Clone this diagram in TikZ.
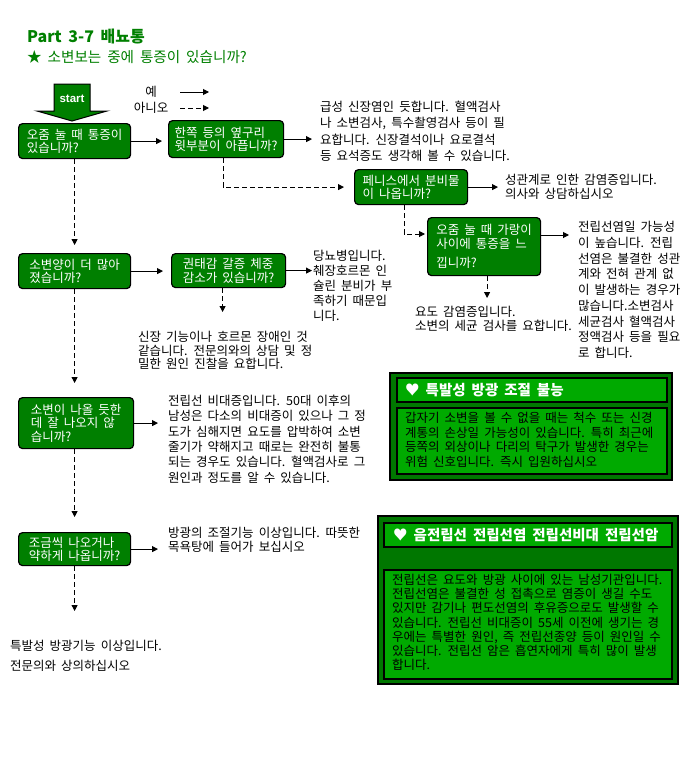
\documentclass[tikz,border=0pt]{standalone}
\usepackage{fontspec}
\setmainfont{Noto Sans CJK KR}[WordSpace=1.8]
\newfontfamily\lsans{Liberation Sans}
\usetikzlibrary{arrows.meta,calc}
\definecolor{dg}{HTML}{007F00}
\definecolor{pg}{HTML}{007700}
\definecolor{lg}{HTML}{00AA00}
\definecolor{tg}{HTML}{008000}
\newcommand{\bodyfont}[1]{\fontsize{12.5}{#1}\selectfont}
\begin{document}
\begin{tikzpicture}[x=1pt,y=-1pt,
  qbox/.style={draw=black, line width=1.2pt, fill=dg, rounded corners=4pt, text=white,
    align=left, anchor=north west, inner sep=0pt, font=\bodyfont{13.5}},
  txt/.style={anchor=north west, inner sep=0pt, align=left, text=black},
  arr/.style={line width=1pt, -{Triangle[length=6pt,width=6pt]}},
  darr/.style={arr, dash pattern=on 5pt off 3pt},
  panel/.style={draw=black, line width=1.2pt, fill=pg},
  pbox/.style={draw=black, line width=1.2pt, fill=lg},
  ptitle/.style={anchor=west, inner sep=0pt, text=white, font=\fontsize{14.5}{17}\selectfont\bfseries},
]
\fill[white] (0,0) rectangle (690,758);
\useasboundingbox (0,0) rectangle (690,758);

% titles
\node[anchor=west, inner sep=0pt, text=tg, font=\fontsize{16}{18}\selectfont\bfseries] (title) at (27,37) {Part 3-7 배뇨통};
\node[anchor=west, inner sep=0pt, text=tg, font=\fontsize{14.6}{17}\selectfont] (subtitle) at (27,57) {★ 소변보는 중에 통증이 있습니까?};

% start arrow
\draw[fill=dg, draw=black, line width=1pt] (54,84) -- (90,84) -- (90,111) -- (107,111) -- (72,121) -- (37,111) -- (54,111) -- cycle;
\node[inner sep=0pt, text=white, font=\lsans\fontsize{11.5}{13}\selectfont\bfseries] (start) at (72,99) {start};

% legend
\node[inner sep=0pt, font=\bodyfont{14}] (yes) at (151,92) {예};
\node[inner sep=0pt, font=\bodyfont{14}] (no) at (151,108) {아니오};
\coordinate (l1a) at (180,92); \coordinate (l1b) at (209,92);
\coordinate (l2a) at (180,108); \coordinate (l2b) at (209,108);
\draw[arr] (l1a) -- (l1b);
\draw[darr] (l2a) -- (l2b);

% question boxes
\node[qbox, minimum width=112pt, minimum height=35pt] (b1) at (18,123) {오줌 눌 때 통증이\\있습니까?};
\node[qbox, minimum width=115pt, minimum height=37pt] (b2) at (168,120) {한쪽 등의 옆구리\\윗부분이 아픕니까?};
\node[qbox, minimum width=113pt, minimum height=35pt] (b3) at (354,169) {페니스에서 분비물\\이 나옵니까?};
\node[qbox, minimum width=113pt, minimum height=58pt] (b4) at (427,217) {오줌 눌 때 가랑이\\사이에 통증을 느\\[6pt]낍니까?};
\node[qbox, minimum width=112pt, minimum height=35pt] (b5) at (18,253) {소변양이 더 많아\\졌습니까?};
\node[qbox, minimum width=114pt, minimum height=34pt] (b6) at (171,253) {권태감 갈증 체중\\감소가 있습니까?};
\node[qbox, minimum width=115pt, minimum height=51pt] (b7) at (18,397) {소변이 나올 듯한\\데 잘 나오지 않\\습니까?};
\node[qbox, minimum width=112pt, minimum height=33pt] (b8) at (18,532) {조금씩 나오거나\\약하게 나옵니까?};

% answer texts
\node[txt, font=\bodyfont{16.3}] (t1) at (320,101) {급성 신장염인 듯합니다. 혈액검사\\나 소변검사, 특수촬영검사 등이 필\\요합니다. 신장결석이나 요로결석\\등 요석증도 생각해 볼 수 있습니다.};
\node[txt, font=\bodyfont{13.5}] (t3) at (505,174) {성관계로 인한 감염증입니다.\\의사와 상담하십시오};
\node[txt, font=\bodyfont{15.75}] (t4) at (578,221) {전립선염일 가능성\\이 높습니다. 전립\\선염은 불결한 성관\\계와 전혀 관계 없\\이 발생하는 경우가\\많습니다.소변검사\\세균검사 혈액검사\\정액검사 등을 필요\\로 합니다.};
\node[txt, font=\bodyfont{13.5}] (t4b) at (415,306) {요도 감염증입니다.\\소변의 세균 검사를 요합니다.};
\node[txt, font=\bodyfont{15}] (t6) at (313,250) {당뇨병입니다.\\췌장호르몬 인\\슐린 분비가 부\\족하기 때문입\\니다.};
\node[txt, font=\bodyfont{13.5}] (t6b) at (138,331) {신장 기능이나 호르몬 장애인 것\\같습니다. 전문의와의 상담 및 정\\밀한 원인 진찰을 요합니다.};
\node[txt, font=\bodyfont{15.3}] (t7) at (168,395) {전립선 비대증입니다. 50대 이후의\\남성은 다소의 비대증이 있으나 그 정\\도가 심해지면 요도를 압박하여 소변\\줄기가 약해지고 때로는 완전히 불통\\되는 경우도 있습니다. 혈액검사로 그\\원인과 정도를 알 수 있습니다.};
\node[txt, font=\bodyfont{14}] (t8) at (168,527) {방광의 조절기능 이상입니다. 따뜻한\\목욕탕에 들어가 보십시오};
\node[txt, font=\bodyfont{20}] (t9) at (10,640) {특발성 방광기능 이상입니다.\\전문의와 상의하십시오};

% connectors
\draw[arr, shorten >=6pt] (b1.east) -- (b1.east -| b2.west);
\draw[arr, shorten >=8pt] (b2.east) -- (b2.east -| t1.west);
\draw[darr, shorten >=10pt] ([xshift=-3pt]b2.south) |- (b3.west);
\draw[arr, shorten >=7pt] (b3.east) -- (b3.east -| t3.west);
\coordinate (c34) at ($(b4.north west)+(0,17)$);
\draw[darr, shorten >=2pt] ([xshift=-7pt]b3.south) |- (c34);
\coordinate (c4) at ($(b4.north east)+(0,18)$);
\draw[arr, shorten >=9pt] (c4) -- (c4 -| t4.west);
\draw[darr, shorten >=8pt] ([xshift=3pt]b4.south) -- ([xshift=3pt]b4.south |- t4b.north);
\draw[darr, shorten >=8pt] (b1.south) -- (b1.south |- b5.north);
\draw[arr, shorten >=8pt] (b5.east) -- (b5.east -| b6.west);
\draw[arr, shorten >=1pt] (b6.east) -- (b6.east -| t6.west);
\draw[darr, shorten >=19pt] ([xshift=-6pt]b6.south) -- ([xshift=-6pt]b6.south |- t6b.north);
\draw[darr, shorten >=14pt] (b5.south) -- (b5.south |- b7.north);
\draw[arr, shorten >=10pt] (b7.east) -- (b7.east -| t7.west);
\draw[darr, shorten >=15pt] (b1.south |- b7.south) -- (b1.south |- b8.north);
\draw[arr, shorten >=10pt] (b8.east) -- (b8.east -| t8.west);
\draw[darr, shorten >=29pt] (b8.south) -- (b8.south |- t9.north);

% panel 1
\draw[panel] (390,373) rectangle (672,480);
\draw[pbox] (397,378) rectangle (667,402);
\draw[pbox] (397,408) rectangle (667,474);
\node[ptitle] (p1title) at (405,390) {♥ 특발성 방광 조절 불능};
\node[txt, font=\bodyfont{14.7}] (p1body) at (405,412) {갑자기 소변을 볼 수 없을 때는 척수 또는 신경\\계통의 손상일 가능성이 있습니다. 특히 최근에\\등쪽의 외상이나 다리의 탁구가 발생한 경우는\\위험 신호입니다. 즉시 입원하십시오};

% panel 2
\draw[panel] (378,516) rectangle (678,684);
\draw[pbox] (384,523) rectangle (672,547);
\draw[pbox] (384,570) rectangle (672,679);
\node[ptitle] (p2title) at (393,535) {♥ 음전립선 전립선염 전립선비대 전립선암};
\node[txt, font=\bodyfont{14.2}] (p2body) at (392,574) {전립선은 요도와 방광 사이에 있는 남성기관입니다.\\전립선염은 불결한 성 접촉으로 염증이 생길 수도\\있지만 감기나 편도선염의 후유증으로도 발생할 수\\있습니다. 전립선 비대증이 55세 이전에 생기는 경\\우에는 특별한 원인, 즉 전립선종양 등이 원인일 수\\있습니다. 전립선 암은 흡연자에게 특히 많이 발생\\합니다.};
\end{tikzpicture}
\end{document}
